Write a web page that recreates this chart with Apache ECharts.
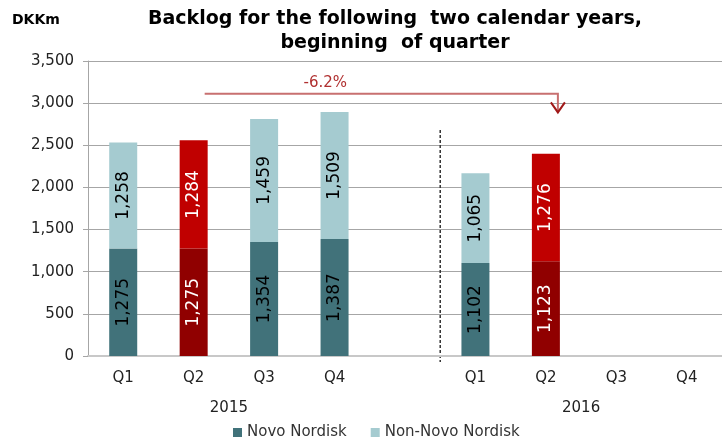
<!DOCTYPE html>
<html>
<head>
<meta charset="utf-8">
<script src="https://cdn.jsdelivr.net/npm/echarts@6/dist/echarts.min.js"></script>
<style>
html, body { margin: 0; padding: 0; background: #fff; }
#chart { width: 722px; height: 440px; }
</style>
</head>
<body>
<div id="chart"></div>
<script>
// data
const quarters = ['Q1', 'Q2', 'Q3', 'Q4', '', 'Q1', 'Q2', 'Q3', 'Q4'];
const yearLabels = ['2015', '2016'];
const yearSpans = [[0, 3], [5, 8]];
const novo = [1275, 1275, 1354, 1387, null, 1102, 1123, null, null];
const nonNovo = [1258, 1284, 1459, 1509, null, 1065, 1276, null, null];
const redBars = [1, 6];
const changeText = '-6.2%';

const FONT = 'DejaVu Sans';
const fmt = v => v.toLocaleString('en-US');

const chart = echarts.init(document.getElementById('chart'));

const toData = (values, normal, red) => values.map((v, i) => {
    if (v == null) return null;
    const isRed = redBars.includes(i);
    return {
        value: v,
        itemStyle: { color: isRed ? red : normal },
        label: { color: isRed ? '#fff' : '#000' }
    };
});

const barLabel = {
    show: true,
    position: 'inside',
    rotate: 90,
    fontFamily: FONT,
    fontSize: 17,
    formatter: p => fmt(p.value)
};

chart.setOption({
    animation: false,
    title: {
        text: 'Backlog for the following  two calendar years,\nbeginning  of quarter',
        left: 390,
        top: 2,
        textAlign: 'center',
        textStyle: { fontFamily: FONT, fontSize: 19, fontWeight: 'bold', color: '#000', lineHeight: 24 }
    },
    legend: {
        bottom: -5,
        left: 228,
        icon: 'rect',
        itemWidth: 9,
        itemHeight: 9,
        itemGap: 24,
        textStyle: { fontFamily: FONT, fontSize: 15, color: '#333' }
    },
    grid: { left: 88, right: 0, top: 61, bottom: 84 },
    xAxis: {
        type: 'category',
        data: quarters,
        axisLine: { lineStyle: { color: '#c8c8c8', width: 2 } },
        axisTick: { show: false },
        axisLabel: { fontFamily: FONT, fontSize: 15, color: '#222', margin: 15 }
    },
    yAxis: {
        type: 'value',
        min: 0,
        max: 3500,
        interval: 500,
        axisLine: { show: true, lineStyle: { color: '#a6a6a6' } },
        axisTick: { show: true, length: 5, lineStyle: { color: '#a6a6a6' } },
        axisLabel: { fontFamily: FONT, fontSize: 15, color: '#222', margin: 14, formatter: v => fmt(v) },
        splitLine: { lineStyle: { color: '#a6a6a6' } }
    },
    series: [
        {
            name: 'Novo Nordisk',
            type: 'bar',
            stack: 'total',
            barWidth: 28,
            color: '#41727a',
            data: toData(novo, '#41727a', '#900000'),
            label: barLabel
        },
        {
            name: 'Non-Novo Nordisk',
            type: 'bar',
            stack: 'total',
            barWidth: 28,
            color: '#a5cbd0',
            data: toData(nonNovo, '#a5cbd0', '#c00000'),
            label: barLabel
        }
    ]
});

// annotations placed through the axes
const xAt = i => chart.convertToPixel({ xAxisIndex: 0 }, i);
const yAt = v => chart.convertToPixel({ yAxisIndex: 0 }, v);
const step = xAt(1) - xAt(0);

const yBase = yAt(0);
const arrowY = yAt(3110);
const arrowTip = yAt(2890);
const arrowX1 = xAt(redBars[0]) + 11;
const arrowX2 = xAt(redBars[1]) + 12;
const sepX = xAt(4) + step / 2;

const graphics = [
    {
        type: 'text',
        left: 12, top: 13,
        style: { text: 'DKKm', fontFamily: FONT, fontSize: 14, fontWeight: 'bold', fill: '#000' }
    },
    {
        type: 'line',
        shape: { x1: sepX, y1: yAt(2680), x2: sepX, y2: yBase + 6 },
        style: { stroke: '#333', lineWidth: 1.5, lineDash: [3, 2] }
    },
    {
        type: 'polyline',
        shape: { points: [[arrowX1, arrowY], [arrowX2, arrowY], [arrowX2, arrowTip]] },
        style: { stroke: '#c87070', lineWidth: 2, fill: null }
    },
    {
        type: 'polyline',
        shape: { points: [[arrowX2 - 7, arrowTip - 10], [arrowX2, arrowTip], [arrowX2 + 7, arrowTip - 10]] },
        style: { stroke: '#a01818', lineWidth: 2, fill: null }
    },
    {
        type: 'text',
        x: (arrowX1 + arrowX2) / 2 - 56,
        y: arrowY - 3,
        style: { text: changeText, fontFamily: FONT, fontSize: 15, fill: '#b03030', align: 'center', verticalAlign: 'bottom' }
    }
];

yearLabels.forEach((name, k) => {
    graphics.push({
        type: 'text',
        x: (xAt(yearSpans[k][0]) + xAt(yearSpans[k][1])) / 2,
        y: yBase + 52,
        style: { text: name, fontFamily: FONT, fontSize: 15, fill: '#222', align: 'center', verticalAlign: 'middle' }
    });
});

chart.setOption({ graphic: graphics });
window.addEventListener('resize', () => chart.resize());
</script>
</body>
</html>
